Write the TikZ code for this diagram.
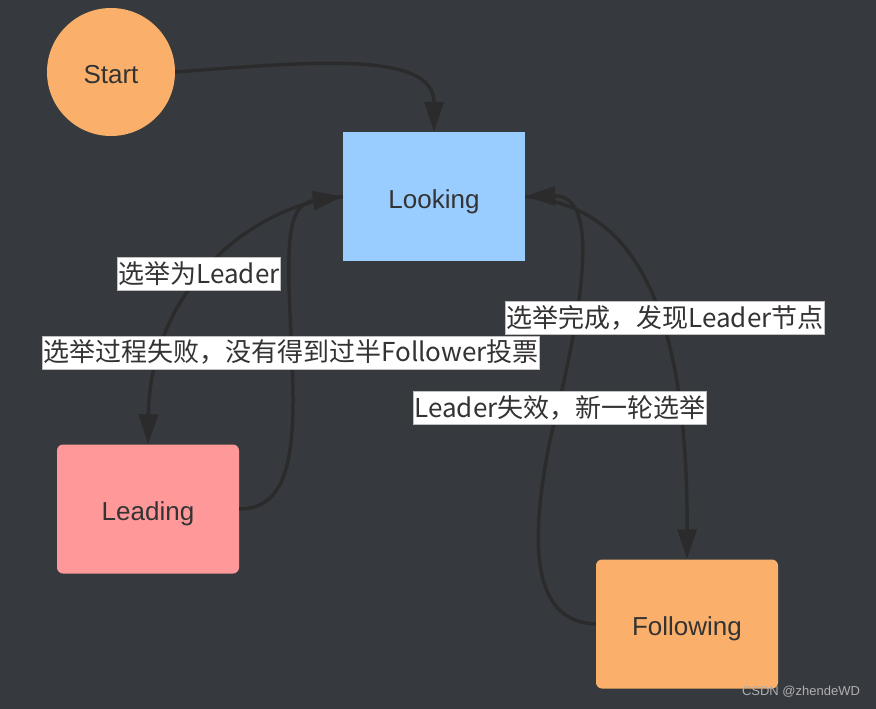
\documentclass[tikz,border=0pt]{standalone}
\usepackage{fontspec}
\setmainfont{Liberation Sans}
\newfontfamily\cjkfont{Noto Sans CJK SC}
\usepackage{tikz}
\usetikzlibrary{
  arrows.meta,
  positioning,
  backgrounds
}
\definecolor{bgcolor}{RGB}{54, 58, 63}
\definecolor{startcolor}{RGB}{250, 176, 106}
\definecolor{lookingcolor}{RGB}{153, 204, 255}
\definecolor{leadingcolor}{RGB}{255, 153, 153}
\definecolor{followingcolor}{RGB}{250, 176, 106}
\definecolor{arrowcolor}{RGB}{43, 43, 43}
\definecolor{labelcolor}{RGB}{51, 51, 51}
\definecolor{markcolor}{RGB}{175, 175, 175}
\tikzset{
statetext/.style={
  font=\fontsize{26}{30}\selectfont,
  text=labelcolor,
  text height=23pt,
  text depth=0pt,
  align=center
},
startnode/.style={
  circle,
  fill=startcolor,
  minimum size=128pt,
  inner sep=0pt,
  statetext
},
statebox/.style={
  minimum width=182pt,
  minimum height=129pt,
  inner sep=0pt,
  statetext
},
edgelabel/.style={
  fill=white,
  draw=white!75!black,
  line width=0.4pt,
  font=\cjkfont\fontsize{26}{30}\selectfont,
  text=labelcolor,
  text height=23pt,
  text depth=5pt,
  inner xsep=1pt,
  inner ysep=2.5pt
},
watermark/.style={
  font=\fontsize{13}{15}\selectfont,
  text=markcolor
},
arrow/.style={
  -{Triangle[length=30pt,width=19pt]},
  line width=3.5pt,
  draw=arrowcolor
}
}
\begin{document}
\begin{tikzpicture}[x=1pt, y=-1pt]
        \fill[bgcolor] (0,0) rectangle (876,709);
        \useasboundingbox (0,0) rectangle (876,709);
        % states
        \node[startnode] (start) at (111,72) {Start};
        \node[statebox, fill=lookingcolor] (looking) at (434,196.5) {Looking};
        \node[statebox, fill=leadingcolor, rounded corners=6pt] (leading) at (148,509) {Leading};
        \node[statebox, fill=followingcolor, rounded corners=6pt] (following) at (687,624) {Following};
        % transitions
        \draw[arrow] (start.east) .. controls (310,62) and (434,50) .. (looking.north);
        \draw[arrow] (looking.west) .. controls (250,205) and (150,290) .. (leading.north);
        \draw[arrow] (leading.east) .. controls (290,509) and (296,450) .. (292,360)
          .. controls (288,260) and (282,205) .. (looking.west);
        \draw[arrow] (looking.east) .. controls (620,205) and (688,280) .. (following.north);
        \draw[arrow] (following.west) .. controls (530,622) and (530,540) .. (550,440)
          .. controls (585,300) and (600,195) .. (looking.east);
        % labels
        \node[edgelabel] (elected) at (199,274) {选举为Leader};
        \node[edgelabel] (failed) at (291,352.5) {选举过程失败，没有得到过半Follower投票};
        \node[edgelabel] (found) at (665,318) {选举完成，发现Leader节点};
        \node[edgelabel] (lost) at (560,408) {Leader失效，新一轮选举};
        \node[watermark] (mark) at (801,692) {CSDN @zhendeWD};
      \end{tikzpicture}
\end{document}
